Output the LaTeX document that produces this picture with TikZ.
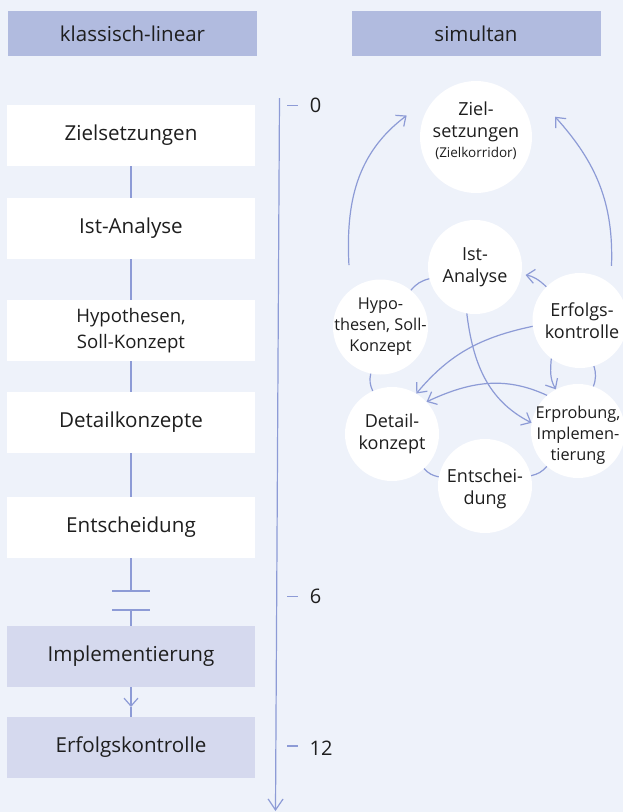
\documentclass[tikz,border=0pt]{standalone}
\usepackage{fontspec}
\setmainfont{Open Sans}
\usetikzlibrary{arrows.meta,calc}
\definecolor{bg}{HTML}{EEF2FA}
\definecolor{hdr}{HTML}{B1BBDF}
\definecolor{implc}{HTML}{D5D9EE}
\definecolor{ln}{HTML}{8D9BD6}
\definecolor{txt}{HTML}{1E1E1E}
\begin{document}
\begin{tikzpicture}[x=1pt,y=1pt,
  hdrbox/.style={rectangle, fill=hdr, minimum width=249pt, minimum height=45pt, inner sep=0pt, text=txt, font=\fontsize{20.5}{24}\selectfont},
  lbox/.style={rectangle, fill=white, minimum width=248pt, minimum height=61pt, inner sep=0pt, text=txt, align=center, font=\fontsize{20.6}{25}\selectfont},
  circ/.style={circle, fill=white, minimum size=#1, inner sep=0pt},
  circ/.default=94pt,
  ctext/.style={text=txt, align=center, font=\fontsize{18}{21.5}\selectfont, inner sep=0pt},
  ctextS/.style={ctext, font=\fontsize{16.3}{21}\selectfont},
  conn/.style={draw=ln, line width=1.2pt},
  arr/.style={conn, -{Straight Barb[length=8pt,width=14pt]}},
  ticklbl/.style={text=txt, font=\fontsize{20}{24}\selectfont, inner sep=0pt},
]
\fill[bg] (0,0) rectangle (623,-812);
\useasboundingbox (0,0) rectangle (623,-812);

% headers
\node[hdrbox] (hL) at (132.5,-33.5) {klassisch-linear};
\node[hdrbox] (hR) at (476,-33.5) {simultan};

% left column
\node[lbox] (zl) at (131,-135.5) {Zielsetzungen};
\node[lbox] (il) at (131,-228.5) {Ist-Analyse};
\node[lbox, font=\fontsize{18.6}{25.7}\selectfont] (hl) at (131,-330.5) {Hypothesen,\\Soll-Konzept};
\node[lbox] (dl) at (131,-422.5) {Detailkonzepte};
\node[lbox] (el) at (131,-527.5) {Entscheidung};
\node[lbox, fill=implc] (impl) at (131,-656.5) {Implementierung};
\node[lbox, fill=implc] (erfl) at (131,-747.5) {Erfolgskontrolle};

\draw[conn] (zl) -- (il);
\draw[conn] (il) -- (hl);
\draw[conn] (hl) -- (dl);
\draw[conn] (dl) -- (el);
\coordinate (brk1) at (131,-591);
\coordinate (brk2) at (131,-610);
\draw[conn] (el) -- (brk1);
\draw[conn] ([xshift=-19pt]brk1) -- ([xshift=19pt]brk1);
\draw[conn] ([xshift=-19pt]brk2) -- ([xshift=19pt]brk2);
\draw[conn] (brk2) -- (impl);
\coordinate (mtip) at (131,-707);
\draw[arr] (impl) -- (mtip);
\draw[conn] (mtip) -- (erfl);

% time axis
\coordinate (tTop) at (279.5,-98);
\coordinate (tBot) at (275.5,-811);
\draw[conn, -{Straight Barb[length=11pt,width=15pt]}] (tTop) -- (tBot);
\draw[conn] (287,-105.7) -- (298,-105.7);
\draw[conn] (287,-596.7) -- (298,-596.7);
\draw[conn] (287,-746) -- (298,-746);
\node[ticklbl] (n0) at (315.5,-105.8) {0};
\node[ticklbl] (n6) at (315.5,-596) {6};
\node[ticklbl] (n12) at (321,-748) {12};

% circles
\node[circ=112pt, label={[ctext,yshift=6pt]center:{Ziel-\\setzungen\\[-1pt]{\fontsize{13.5}{16}\selectfont(Zielkorridor)}}}] (ziel) at (476,-137) {};
\node[circ, label={[ctext]center:{Ist-\\Analyse}}] (ist) at (475,-267) {};
\node[circ=95pt, label={[ctextS]center:{Hypo-\\thesen, Soll-\\Konzept}}] (hyp) at (380.5,-327) {};
\node[circ=95pt, label={[ctext,xshift=2pt]center:{Erfolgs-\\kontrolle}}] (erf) at (580,-320.5) {};
\node[circ, label={[ctextS,yshift=-4pt]center:{Erprobung,\\Implemen-\\tierung}}] (erp) at (578,-431) {};
\node[circ, label={[ctext]center:{Detail-\\konzept}}] (det) at (392,-434) {};
\node[circ, label={[ctext,yshift=-3pt]center:{Entschei-\\dung}}] (ent) at (485,-486) {};

% ring
\draw[conn] (hyp) to[bend left=18] (ist);
\draw[conn] (erf) to[bend left=18] (erp);
\draw[conn] (erp) to[bend left=18] (ent);
\draw[conn] (ent) to[bend left=18] (det);
\draw[conn] (det) to[bend left=18] (hyp);
\draw[arr, shorten >=4pt] (erf) to[bend right=18] (ist);

% inner arrows
\draw[arr] (erf.187) to[out=192,in=50] (det.59);
\draw[arr] (erp.131) to[out=155,in=25] (det.43);
\draw[arr] (ist.260) to[out=277,in=153] (erp.170);
\draw[arr] (erf.233) to[out=265,in=120] (erp.118);

% big arcs to goals
\coordinate (aLs) at ($(hyp)+(117:69.5pt)$);
\coordinate (aLe) at ($(ziel)+(162.8:72.6pt)$);
\coordinate (aRs) at ($(erf)+(60:63pt)$);
\coordinate (aRe) at ($(ziel)+(14.4:81.6pt)$);
\draw[arr] (aLs) to[out=93,in=217] (aLe);
\draw[arr] (aRs) to[out=88,in=-48] (aRe);
\end{tikzpicture}
\end{document}
